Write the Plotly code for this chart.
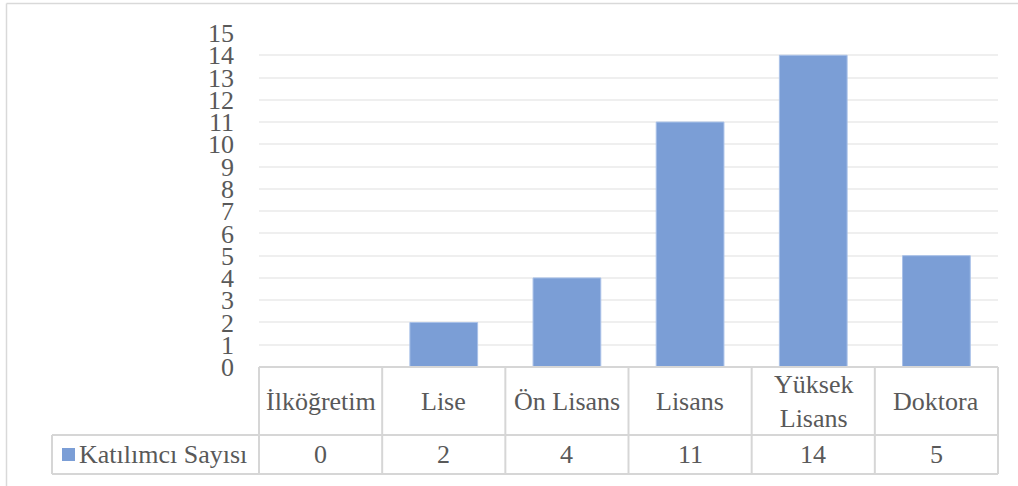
import plotly.graph_objects as go

categories = ["İlköğretim", "Lise", "Ön Lisans", "Lisans", "Yüksek Lisans", "Doktora"]
header_labels = ["İlköğretim", "Lise", "Ön Lisans", "Lisans", "Yüksek<br>Lisans", "Doktora"]
values = [0, 2, 4, 11, 14, 5]
series_name = "Katılımcı Sayısı"
y_ticks = list(range(0, 16))

W, H = 1018, 486
L, R, T, B = 259, 20, 33, 119
plot_w = W - L - R
plot_h = H - T - B

def py(p):
    return (H - B - p) / plot_h

def px(p):
    return (p - L) / plot_w

bar_color = "#7b9ed6"
grid = "#efefef"
border = "#d6d6d6"
font = "Liberation Serif, Times New Roman, Times, serif"
txt = "#595959"
fs = 26

fig = go.Figure()
fig.add_trace(go.Bar(
    x=categories, y=values, name=series_name,
    marker=dict(color=bar_color, line=dict(color="#a9c1e8", width=1)),
    width=0.55, showlegend=False,
))

shapes = []
shapes.append(dict(type="line", xref="paper", yref="paper", x0=px(6.5), x1=px(1030), y0=py(3.5), y1=py(3.5),
                   line=dict(color="#d9d9d9", width=1.5)))
shapes.append(dict(type="line", xref="paper", yref="paper", x0=px(6.5), x1=px(6.5), y0=py(3.5), y1=py(490),
                   line=dict(color="#d9d9d9", width=1.5)))

n = len(categories)
row1_bottom = py(435)
row2_bottom = py(474)
shapes.append(dict(type="line", xref="paper", yref="paper", x0=0, x1=1, y0=0, y1=0,
                   line=dict(color=border, width=2)))
shapes.append(dict(type="line", xref="paper", yref="paper", x0=px(52), x1=1, y0=row1_bottom, y1=row1_bottom,
                   line=dict(color=border, width=2)))
shapes.append(dict(type="line", xref="paper", yref="paper", x0=px(52), x1=1, y0=row2_bottom, y1=row2_bottom,
                   line=dict(color=border, width=2)))
for k in range(n + 1):
    shapes.append(dict(type="line", xref="paper", yref="paper", x0=k / n, x1=k / n, y0=0, y1=row2_bottom,
                       line=dict(color=border, width=2)))
shapes.append(dict(type="line", xref="paper", yref="paper", x0=px(52), x1=px(52), y0=row1_bottom, y1=row2_bottom,
                   line=dict(color=border, width=2)))
shapes.append(dict(type="rect", xref="paper", yref="paper", x0=px(62), x1=px(75), y0=py(461), y1=py(448),
                   fillcolor=bar_color, line=dict(width=0)))

annotations = []
hdr_y = py(401)
val_y = py(454.5)
for c, lab, v in zip(categories, header_labels, values):
    annotations.append(dict(x=c, xref="x", y=hdr_y, yref="paper", text=lab, showarrow=False,
                            font=dict(family=font, size=fs, color=txt), xanchor="center", yanchor="middle"))
    annotations.append(dict(x=c, xref="x", y=val_y, yref="paper", text=str(v), showarrow=False,
                            font=dict(family=font, size=fs, color=txt), xanchor="center", yanchor="middle"))
annotations.append(dict(x=px(77), xref="paper", y=val_y, yref="paper", text=series_name, showarrow=False,
                        font=dict(family=font, size=fs, color=txt), xanchor="left", yanchor="middle"))

fig.update_layout(
    width=W, height=H,
    margin=dict(l=L, r=R, t=T, b=B),
    paper_bgcolor="white", plot_bgcolor="white",
    shapes=shapes, annotations=annotations,
    xaxis=dict(type="category", categoryorder="array", categoryarray=categories, showticklabels=False,
               showgrid=False, zeroline=False, showline=False, ticks=""),
    yaxis=dict(range=[0, 15], tickvals=y_ticks, showgrid=True, gridcolor=grid, gridwidth=2,
               zeroline=False, showline=False, ticks="",
               tickfont=dict(family=font, size=fs, color=txt), ticklabelstandoff=24),
)

fig.write_html("out.html", config={"displayModeBar": False},
               post_script="document.body.style.margin='0';document.body.style.overflow='hidden';")
